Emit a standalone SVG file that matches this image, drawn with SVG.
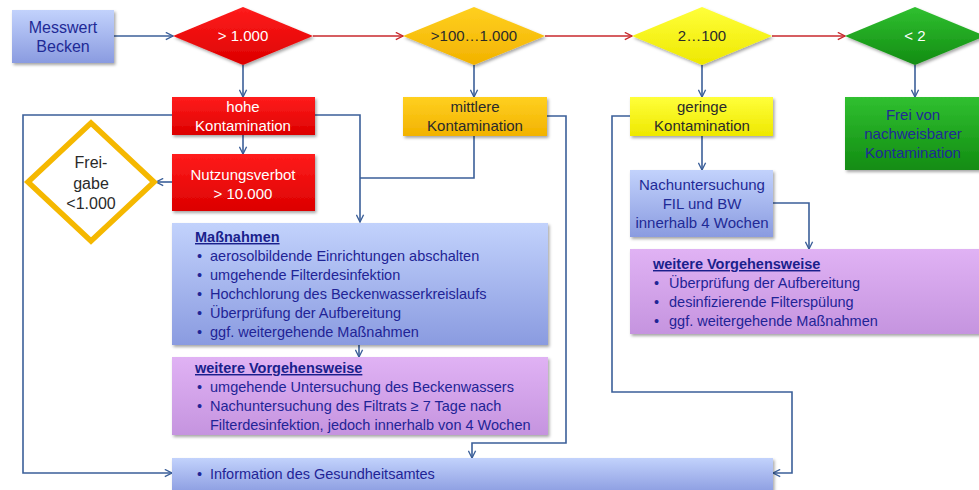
<svg xmlns="http://www.w3.org/2000/svg" width="979" height="490" viewBox="0 0 979 490">
<defs>
<style>
text{font-family:"Liberation Sans",Arial,sans-serif;}
.t{font-size:15px;text-anchor:middle;}
.w{fill:#ffffff;}
.b{fill:#1f2a96;}
.k{fill:#2a2a2a;}
.bt{font-size:14.5px;fill:#1f2496;}
.hd{font-size:14.5px;fill:#1a1f8c;font-weight:bold;text-decoration:underline;}
.c{fill:none;stroke:#3b5f99;stroke-width:1.6;}
.r{fill:none;stroke:#c8282c;stroke-width:1.6;}
</style>
<linearGradient id="gBlue" x1="0" y1="0" x2="0" y2="1"><stop offset="0" stop-color="#c2d2fc"/><stop offset="1" stop-color="#8a9be0"/></linearGradient>
<linearGradient id="gPur" x1="0" y1="0" x2="0" y2="1"><stop offset="0" stop-color="#e0b2f4"/><stop offset="1" stop-color="#c594df"/></linearGradient>
<linearGradient id="gRed" x1="0" y1="0" x2="0" y2="1"><stop offset="0" stop-color="#ff1c1c"/><stop offset="1" stop-color="#dc0000"/></linearGradient>
<linearGradient id="gGold" x1="0" y1="0" x2="0" y2="1"><stop offset="0" stop-color="#ffd020"/><stop offset="1" stop-color="#f2b200"/></linearGradient>
<linearGradient id="gYel" x1="0" y1="0" x2="0" y2="1"><stop offset="0" stop-color="#ffff3a"/><stop offset="1" stop-color="#eee800"/></linearGradient>
<linearGradient id="gGrn" x1="0" y1="0" x2="0" y2="1"><stop offset="0" stop-color="#30c030"/><stop offset="1" stop-color="#128c12"/></linearGradient>
<filter id="sh" x="-10%" y="-10%" width="125%" height="140%"><feDropShadow dx="1.5" dy="2" stdDeviation="1.5" flood-color="#000" flood-opacity="0.35"/></filter>
<marker id="ab" viewBox="0 0 10 10" refX="9" refY="5" markerWidth="9" markerHeight="9" orient="auto" markerUnits="userSpaceOnUse"><path d="M1,1 L9,5 L1,9" fill="none" stroke="#3b5f99" stroke-width="1.5"/></marker>
<marker id="ar" viewBox="0 0 10 10" refX="9" refY="5" markerWidth="9" markerHeight="9" orient="auto" markerUnits="userSpaceOnUse"><path d="M1,1 L9,5 L1,9" fill="none" stroke="#c8282c" stroke-width="1.5"/></marker>
</defs>
<rect width="979" height="490" fill="#ffffff"/>

<g id="connectors">
<path class="c" d="M114,36 H173" marker-end="url(#ab)"/>
<path class="r" d="M313,36 H403" marker-end="url(#ar)"/>
<path class="r" d="M545,36 H632" marker-end="url(#ar)"/>
<path class="r" d="M772,36 H845" marker-end="url(#ar)"/>
<path class="c" d="M243,65 V97" marker-end="url(#ab)"/>
<path class="c" d="M243,135 V154" marker-end="url(#ab)"/>
<path class="c" d="M172,182 H156" marker-end="url(#ab)"/>
<path class="c" d="M172,115 H23 V473 H172" marker-end="url(#ab)"/>
<path class="c" d="M315,115 H360 V222" marker-end="url(#ab)"/>
<path class="c" d="M474,136 V178 H360"/>
<path class="c" d="M474,65 V97" marker-end="url(#ab)"/>
<path class="c" d="M547,116 H566 V443 H472 V458" marker-end="url(#ab)"/>
<path class="c" d="M359,345 V357" marker-end="url(#ab)"/>
<path class="c" d="M702,65 V97" marker-end="url(#ab)"/>
<path class="c" d="M630,116 H612 V392 H792 V473 H773" marker-end="url(#ab)"/>
<path class="c" d="M702,136 V170" marker-end="url(#ab)"/>
<path class="c" d="M773,203 H809 V249" marker-end="url(#ab)"/>
<path class="c" d="M915,65 V97" marker-end="url(#ab)"/>
</g>

<g id="messwert">
<rect x="12" y="10" width="102" height="53" fill="url(#gBlue)" filter="url(#sh)"/>
<text class="t b" x="63" y="33" style="font-size:16px">Messwert</text>
<text class="t b" x="63" y="52" style="font-size:16px">Becken</text>
</g>

<g id="d1">
<polygon points="243,7 313,36 243,65 173,36" fill="url(#gRed)" filter="url(#sh)"/>
<text class="t w" x="243" y="41">&gt; 1.000</text>
</g>
<g id="d2">
<polygon points="474,7 545,36 474,65 403,36" fill="url(#gGold)" filter="url(#sh)"/>
<text class="t k" x="474" y="41">&gt;100…1.000</text>
</g>
<g id="d3">
<polygon points="702,7 772,36 702,65 632,36" fill="url(#gYel)" filter="url(#sh)"/>
<text class="t k" x="702" y="41">2…100</text>
</g>
<g id="d4">
<polygon points="915,7 985,36 915,65 845,36" fill="url(#gGrn)" filter="url(#sh)"/>
<text class="t w" x="915" y="41">&lt; 2</text>
</g>

<g id="hohe">
<rect x="172" y="97" width="143" height="38" fill="url(#gRed)" filter="url(#sh)"/>
<text class="t w" x="243" y="112">hohe</text>
<text class="t w" x="243" y="131">Kontamination</text>
</g>
<g id="nutzung">
<rect x="172" y="154" width="143" height="57" fill="url(#gRed)" filter="url(#sh)"/>
<text class="t w" x="243" y="180">Nutzungsverbot</text>
<text class="t w" x="243" y="199">&gt; 10.000</text>
</g>
<g id="freigabe">
<polygon points="91,123 154,182 91,241 28,182" fill="#ffffff" stroke="#f5b800" stroke-width="5.5" stroke-linejoin="miter"/>
<text class="t k" x="91" y="168" style="font-size:16px">Frei-</text>
<text class="t k" x="91" y="189" style="font-size:16px">gabe</text>
<text class="t k" x="91" y="209" style="font-size:16px">&lt;1.000</text>
</g>

<g id="mittlere">
<rect x="403" y="97" width="144" height="39" fill="url(#gGold)" filter="url(#sh)"/>
<text class="t k" x="475" y="112">mittlere</text>
<text class="t k" x="475" y="131">Kontamination</text>
</g>
<g id="geringe">
<rect x="630" y="97" width="143" height="39" fill="url(#gYel)" filter="url(#sh)"/>
<text class="t k" x="702" y="112">geringe</text>
<text class="t k" x="702" y="131">Kontamination</text>
</g>
<g id="freivon">
<rect x="845" y="97" width="140" height="73" fill="url(#gGrn)" filter="url(#sh)"/>
<text class="t b" x="913" y="120">Frei von</text>
<text class="t b" x="913" y="139">nachweisbarer</text>
<text class="t b" x="913" y="158">Kontamination</text>
</g>

<g id="nachunter">
<rect x="630" y="170" width="143" height="67" fill="url(#gBlue)" filter="url(#sh)"/>
<text class="t b" x="702" y="190">Nachuntersuchung</text>
<text class="t b" x="702" y="209">FIL und BW</text>
<text class="t b" x="702" y="228">innerhalb 4 Wochen</text>
</g>

<g id="weitere-rechts">
<rect x="630" y="249" width="360" height="85" fill="url(#gPur)" filter="url(#sh)"/>
<text class="hd" x="653" y="269">weitere Vorgehensweise</text>
<text class="bt" x="654" y="288">•</text><text class="bt" x="669" y="288">Überprüfung der Aufbereitung</text>
<text class="bt" x="654" y="307">•</text><text class="bt" x="669" y="307">desinfizierende Filterspülung</text>
<text class="bt" x="654" y="326">•</text><text class="bt" x="669" y="326">ggf. weitergehende Maßnahmen</text>
</g>

<g id="massnahmen">
<rect x="172" y="223" width="376" height="122" fill="url(#gBlue)" filter="url(#sh)"/>
<text class="hd" x="195" y="242">Maßnahmen</text>
<text class="bt" x="197" y="261">•</text><text class="bt" x="210" y="261">aerosolbildende Einrichtungen abschalten</text>
<text class="bt" x="197" y="280">•</text><text class="bt" x="210" y="280">umgehende Filterdesinfektion</text>
<text class="bt" x="197" y="299">•</text><text class="bt" x="210" y="299">Hochchlorung des Beckenwasserkreislaufs</text>
<text class="bt" x="197" y="318">•</text><text class="bt" x="210" y="318">Überprüfung der Aufbereitung</text>
<text class="bt" x="197" y="337">•</text><text class="bt" x="210" y="337">ggf. weitergehende Maßnahmen</text>
</g>

<g id="weitere-links">
<rect x="172" y="357" width="376" height="78" fill="url(#gPur)" filter="url(#sh)"/>
<text class="hd" x="195" y="373">weitere Vorgehensweise</text>
<text class="bt" x="197" y="392">•</text><text class="bt" x="210" y="392">umgehende Untersuchung des Beckenwassers</text>
<text class="bt" x="197" y="411">•</text><text class="bt" x="210" y="411">Nachuntersuchung des Filtrats ≥ 7 Tage nach</text>
<text class="bt" x="210" y="430">Filterdesinfektion, jedoch innerhalb von 4 Wochen</text>
</g>

<g id="information">
<rect x="172" y="458" width="601" height="36" fill="url(#gBlue)" filter="url(#sh)"/>
<text class="bt" x="197" y="479">•</text><text class="bt" x="210" y="479">Information des Gesundheitsamtes</text>
</g>
</svg>
